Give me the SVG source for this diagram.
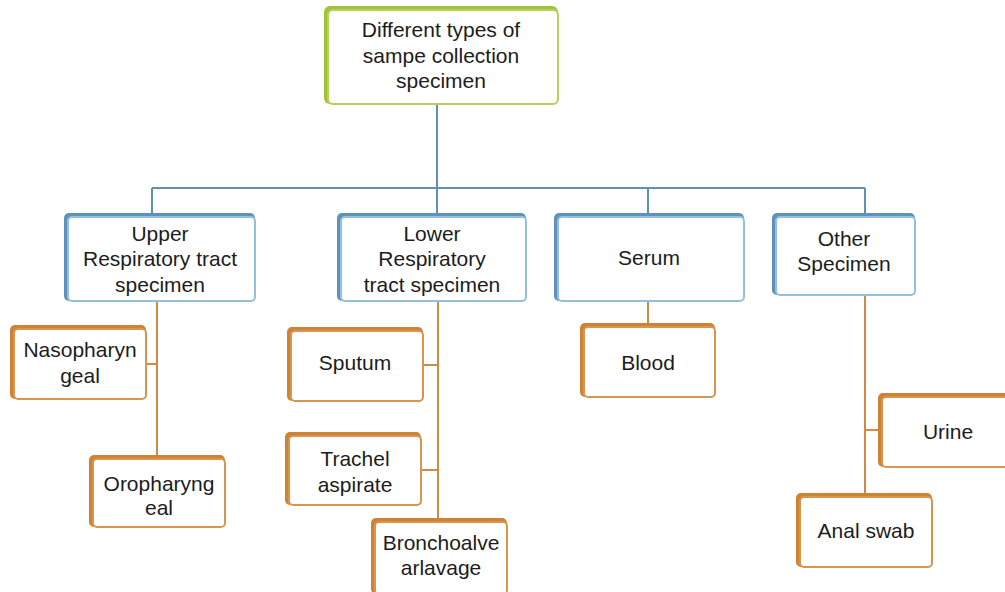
<svg xmlns="http://www.w3.org/2000/svg" width="1005" height="592" viewBox="0 0 1005 592">
  <style>
    text { font-family: "Liberation Sans", Arial, sans-serif; font-size: 21px; fill: #1c1c1c; text-anchor: middle; }
    .gd { fill: #a2c23a; }
    .gf { fill: #ffffff; stroke: #b6d05c; stroke-width: 2; }
    .bd { fill: #5f91ba; }
    .bf { fill: #ffffff; stroke: #93c0dc; stroke-width: 2; }
    .od { fill: #cf8233; }
    .of { fill: #ffffff; stroke: #d9944f; stroke-width: 2; }
    .cb { fill: none; stroke: #5f91b8; stroke-width: 2; }
    .co { fill: none; stroke: #d08a45; stroke-width: 2; }
  </style>

  <!-- connectors -->
  <g id="connectors">
    <path class="cb" d="M437 104 V188 M152 188 H865 M152 188 V213 M437 188 V213 M648 188 V213 M865 188 V213"/>
    <path class="co" d="M157 302 V455 M147 364 H157"/>
    <path class="co" d="M438 302 V518 M424 365 H438 M422 470 H438"/>
    <path class="co" d="M648 302 V323"/>
    <path class="co" d="M865 296 V493 M865 430 H878"/>
  </g>

  <!-- root -->
  <g id="root">
    <rect class="gd" x="324" y="6" width="234" height="98" rx="6"/>
    <rect class="gf" x="328" y="10" width="230" height="94" rx="5"/>
    <text x="441" y="37">Different types of</text>
    <text x="441" y="63">sampe collection</text>
    <text x="441" y="88">specimen</text>
  </g>

  <!-- categories -->
  <g id="upper">
    <rect class="bd" x="64" y="213" width="191" height="88" rx="5"/>
    <rect class="bf" x="68" y="217" width="187" height="84" rx="4"/>
    <text x="160" y="241">Upper</text>
    <text x="160" y="266">Respiratory tract</text>
    <text x="160" y="292">specimen</text>
  </g>
  <g id="lower">
    <rect class="bd" x="337" y="213" width="189" height="88" rx="5"/>
    <rect class="bf" x="341" y="217" width="185" height="84" rx="4"/>
    <text x="432" y="241">Lower</text>
    <text x="432" y="266">Respiratory</text>
    <text x="432" y="292">tract specimen</text>
  </g>
  <g id="serum">
    <rect class="bd" x="554" y="213" width="190" height="88" rx="5"/>
    <rect class="bf" x="558" y="217" width="186" height="84" rx="4"/>
    <text x="649" y="265">Serum</text>
  </g>
  <g id="other">
    <rect class="bd" x="772" y="213" width="143" height="82" rx="5"/>
    <rect class="bf" x="776" y="217" width="139" height="78" rx="4"/>
    <text x="844" y="246">Other</text>
    <text x="844" y="271">Specimen</text>
  </g>

  <!-- specimens -->
  <g id="nasopharyngeal">
    <rect class="od" x="10" y="325" width="136" height="74" rx="5"/>
    <rect class="of" x="14" y="329" width="132" height="70" rx="4"/>
    <text x="80" y="357">Nasopharyn</text>
    <text x="80" y="383">geal</text>
  </g>
  <g id="oropharyngeal">
    <rect class="od" x="89" y="455" width="136" height="72" rx="5"/>
    <rect class="of" x="93" y="459" width="132" height="68" rx="4"/>
    <text x="159" y="491">Oropharyng</text>
    <text x="159" y="515">eal</text>
  </g>
  <g id="sputum">
    <rect class="od" x="287" y="327" width="136" height="74" rx="5"/>
    <rect class="of" x="291" y="331" width="132" height="70" rx="4"/>
    <text x="355" y="370">Sputum</text>
  </g>
  <g id="trachel">
    <rect class="od" x="285" y="432" width="136" height="73" rx="5"/>
    <rect class="of" x="289" y="436" width="132" height="69" rx="4"/>
    <text x="355" y="466">Trachel</text>
    <text x="355" y="492">aspirate</text>
  </g>
  <g id="bronchoalveolar">
    <rect class="od" x="371" y="518" width="136" height="76" rx="5"/>
    <rect class="of" x="375" y="522" width="132" height="72" rx="4"/>
    <text x="441" y="550">Bronchoalve</text>
    <text x="441" y="575">arlavage</text>
  </g>
  <g id="blood">
    <rect class="od" x="580" y="323" width="135" height="74" rx="5"/>
    <rect class="of" x="584" y="327" width="131" height="70" rx="4"/>
    <text x="648" y="370">Blood</text>
  </g>
  <g id="urine">
    <rect class="od" x="878" y="393" width="140" height="74" rx="5"/>
    <rect class="of" x="882" y="397" width="136" height="70" rx="4"/>
    <text x="948" y="439">Urine</text>
  </g>
  <g id="anal-swab">
    <rect class="od" x="796" y="493" width="136" height="74" rx="5"/>
    <rect class="of" x="800" y="497" width="132" height="70" rx="4"/>
    <text x="866" y="538">Anal swab</text>
  </g>
</svg>
